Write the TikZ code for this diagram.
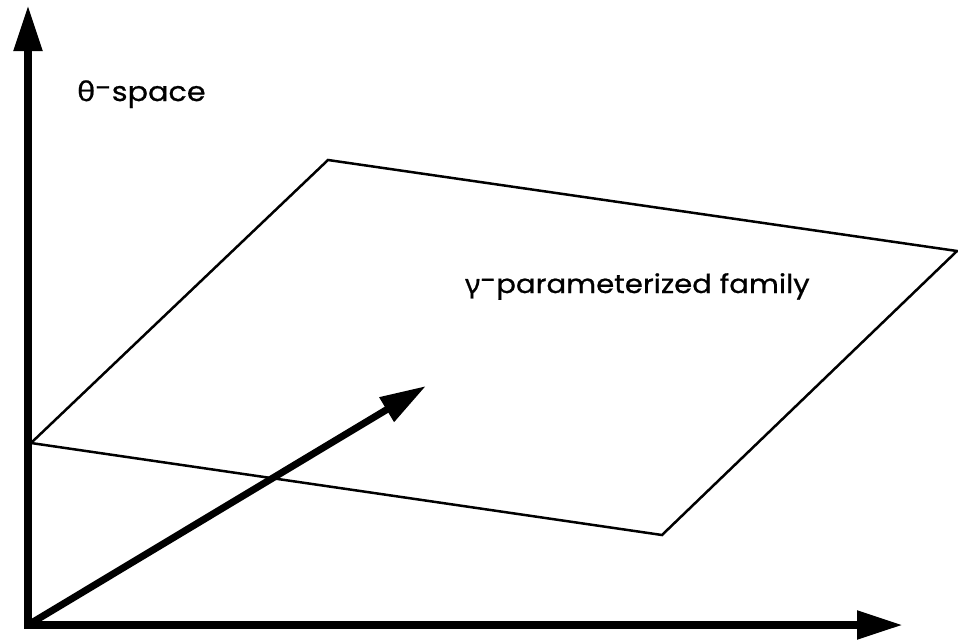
\documentclass[tikz,border=0pt]{standalone}
\usepackage{fontspec}
\setmainfont{Poppins}[FakeStretch=1.12,FakeBold=0.8]
\newfontfamily\greekfont{Noto Sans}[FakeStretch=1.12,FakeBold=0.8]
\usetikzlibrary{arrows.meta}
\tikzset{
  axis/.style={line width=8pt, line join=miter, {Triangle[length=46pt,width=27pt]}-{Triangle[length=46pt,width=27pt]}},
  vec/.style={line width=7pt, -{Triangle[length=46pt,width=27pt]}},
  plane/.style={line width=2.5pt, line join=miter},
  lbl/.style={anchor=base west, inner sep=0pt, font=\fontsize{26}{30}\selectfont}
}
\newcommand{\rdash}{\raisebox{0.14em}{-}}
\begin{document}
\begin{tikzpicture}[x=1pt,y=-1pt]
\useasboundingbox (0,0) rectangle (958,640);
\coordinate (O) at (28,625);
\coordinate (Ytip) at (28,5);
\coordinate (Xtip) at (903,625);
\coordinate (Vtip) at (426,386);
\coordinate (P1) at (31,443);
\coordinate (P2) at (328,160);
\coordinate (P3) at (957,251);
\coordinate (P4) at (662,535);
\draw[plane] (P1) -- (P2) -- (P3) -- (P4) -- cycle;
\draw[axis] (Ytip) -- (O) -- (Xtip);
\draw[vec] (O) -- (Vtip);
\node[lbl, font=\fontsize{27}{30}\selectfont] (theta) at (77,101) {{\greekfont θ}\rdash space};
\node[lbl] (gamma) at (465,293) {{\greekfont γ}\rdash parameterized family};
\end{tikzpicture}
\end{document}
